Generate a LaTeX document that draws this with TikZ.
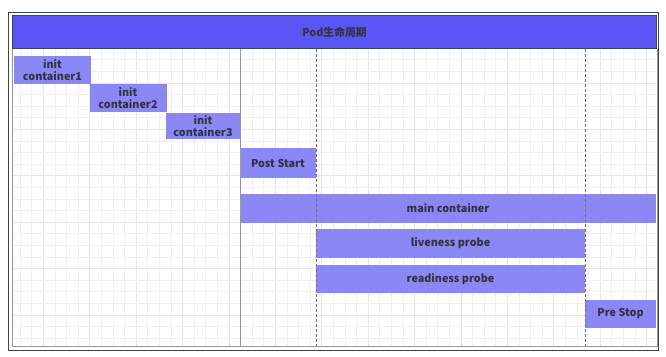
\documentclass[tikz,border=0pt]{standalone}
\usepackage{fontspec}
\setmainfont{Noto Sans CJK SC}
\usepackage{tikz}
\usetikzlibrary{positioning}
\usetikzlibrary{calc}

\definecolor{headblue}{RGB}{90,86,246}
\definecolor{boxblue}{RGB}{139,136,245}
\definecolor{labelgray}{RGB}{50,50,62}
\definecolor{framegray}{RGB}{60,70,78}
\definecolor{gridminor}{RGB}{240,242,242}
\definecolor{gridmajor}{RGB}{229,231,231}

\tikzset{
    phase/.style={fill=boxblue, text=labelgray, inner sep=0pt, outer sep=0pt, anchor=north west, align=center, minimum height=28},
    header/.style={fill=headblue, draw=framegray, line width=1pt, text=labelgray, inner sep=0pt, anchor=north west},
    stagemark/.style={draw=gray!80, line width=0.9pt},
    hookmark/.style={draw=gray!90!black, line width=0.6pt, dash pattern=on 3pt off 2pt},
}

\begin{document}
\begin{tikzpicture}[x=1pt, y=-1pt, font=\bfseries\fontsize{10.8}{12}\selectfont]
    \useasboundingbox (0,0) rectangle (666,356);
    \fill[white] (0,0) rectangle (666,356);

    % grid
    \foreach \i in {0,...,55} {
        \pgfmathsetmacro{\gx}{8.5+11.6*\i}
        \pgfmathtruncatemacro{\gm}{mod(\i,4)}
        \ifnum\gm=3
            \draw[gridmajor, line width=0.6pt] (\gx,48) -- (\gx,346);
        \else
            \draw[gridminor, line width=0.5pt] (\gx,48) -- (\gx,346);
        \fi
    }
    \foreach \j in {0,...,25} {
        \pgfmathsetmacro{\gy}{48+11.6*\j}
        \pgfmathtruncatemacro{\gm}{mod(\j,4)}
        \ifnum\gm=3
            \draw[gridmajor, line width=0.6pt] (12,\gy) -- (656,\gy);
        \else
            \draw[gridminor, line width=0.5pt] (12,\gy) -- (656,\gy);
        \fi
    }

    % frame
    \node[draw=framegray, line width=0.8pt, inner sep=0pt, minimum width=650, minimum height=338, anchor=north west] (frame) at (8,12) {};
    \node[header, minimum width=644, minimum height=33] (pod) at (12,15) {Pod生命周期};
    \draw[stagemark] (pod.south west) -- (pod.south west |- {0,346}) -- (pod.south east |- {0,346}) -- (pod.south east);

    % phases
    \node[phase, minimum width=77] (init1) at (14,56) {init\\container1};
    \node[phase, minimum width=77, below right=0pt and -1.5pt of init1] (init2) {init\\container2};
    \node[phase, minimum width=75, minimum height=26, below right=1pt and -1pt of init2] (init3) {init\\container3};
    \node[phase, minimum width=75, minimum height=30, below right=9pt and 0pt of init3] (poststart) {Post Start};
    \node[phase, minimum width=416, minimum height=29] (main) at (240,194) {main container};
    \node[phase, minimum width=269, minimum height=29] (liveness) at (316,229) {liveness probe};
    \node[phase, minimum width=269] (readiness) at (316,265) {readiness probe};
    \node[phase, minimum width=71] (prestop) at (585,300) {Pre Stop};

    % stage marks
    \coordinate (bottom) at (0,346);
    \draw[stagemark] (poststart.west |- pod.south) -- (poststart.west |- bottom);
    \draw[hookmark] (liveness.west |- pod.south) -- (liveness.west |- bottom);
    \draw[hookmark] (liveness.east |- pod.south) -- (liveness.east |- bottom);
\end{tikzpicture}
\end{document}
